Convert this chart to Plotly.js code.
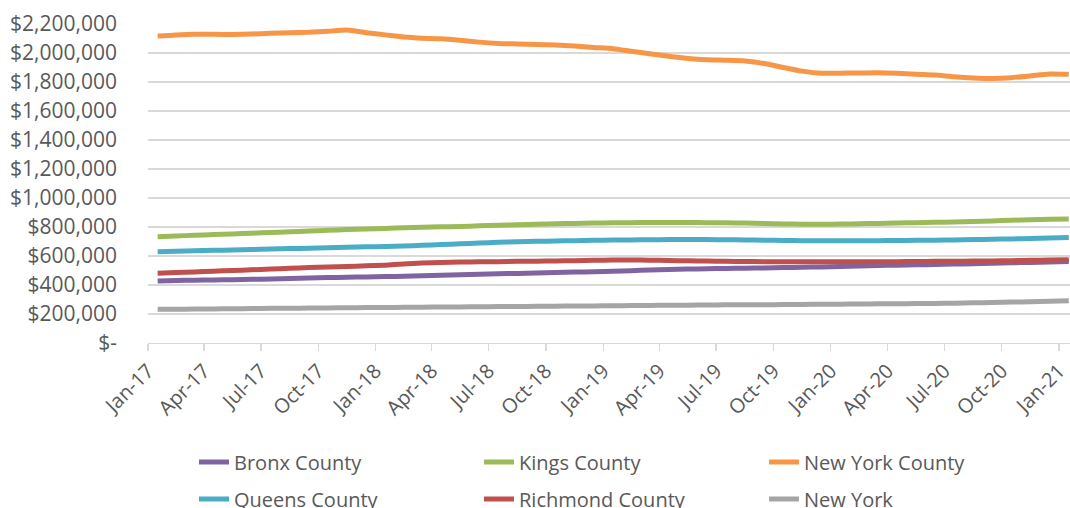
<!DOCTYPE html>
<html>
<head>
<meta charset="utf-8">
<script src="https://cdn.plot.ly/plotly-3.0.1.min.js"></script>
<style>
html,body{margin:0;padding:0;background:#fff;overflow:hidden;}
#chart{width:1070px;height:508px;}
</style>
</head>
<body>
<div id="chart"></div>
<script>
// Months Jan-17 .. Jan-21
const months = [
  "2017-01","2017-02","2017-03","2017-04","2017-05","2017-06","2017-07","2017-08","2017-09","2017-10","2017-11","2017-12",
  "2018-01","2018-02","2018-03","2018-04","2018-05","2018-06","2018-07","2018-08","2018-09","2018-10","2018-11","2018-12",
  "2019-01","2019-02","2019-03","2019-04","2019-05","2019-06","2019-07","2019-08","2019-09","2019-10","2019-11","2019-12",
  "2020-01","2020-02","2020-03","2020-04","2020-05","2020-06","2020-07","2020-08","2020-09","2020-10","2020-11","2020-12",
  "2021-01"
];

const bronx = [
  428000,431000,433000,435000,437000,439000,442000,445000,448000,451000,454000,456000,
  458000,460000,463000,467000,471000,474000,477000,480000,483000,486000,489000,492000,
  495000,499000,503000,507000,510000,512000,514000,516000,518000,520000,522000,525000,
  528000,531000,534000,537000,539000,541000,544000,547000,550000,553000,556000,559000,
  562000
];
const kings = [
  733000,738000,743000,748000,752000,757000,762000,767000,772000,777000,782000,786000,
  790000,795000,798000,801000,804000,808000,812000,816000,819000,822000,825000,827000,
  829000,830000,831000,831000,831000,830000,829000,827000,824000,821000,819000,819000,
  820000,822000,825000,828000,830000,832000,835000,838000,842000,846000,850000,853000,
  855000
];
const newYorkCounty = [
  2117000,2125000,2130000,2129000,2128000,2131000,2136000,2140000,2143000,2150000,2158000,2140000,
  2125000,2110000,2102000,2098000,2088000,2075000,2066000,2062000,2058000,2055000,2048000,2038000,
  2030000,2012000,1995000,1977000,1962000,1953000,1950000,1945000,1928000,1900000,1875000,1860000,
  1861000,1862000,1864000,1860000,1853000,1848000,1836000,1828000,1825000,1830000,1842000,1855000,
  1853000
];
const queens = [
  630000,633000,636000,639000,642000,645000,648000,651000,654000,657000,660000,663000,
  666000,669000,674000,679000,684000,689000,694000,698000,701000,704000,706000,708000,
  710000,711000,712000,713000,713000,713000,712000,711000,709000,707000,706000,705000,
  705000,705000,706000,707000,708000,709000,711000,713000,715000,718000,721000,725000,
  728000
];
const richmond = [
  481000,486000,490000,495000,500000,505000,510000,515000,520000,524000,528000,532000,
  537000,545000,552000,556000,558000,560000,561000,563000,564000,566000,568000,570000,
  572000,572000,571000,569000,567000,565000,563000,562000,561000,560000,560000,560000,
  560000,560000,560000,561000,562000,563000,564000,565000,566000,568000,570000,572000,
  574000
];
const newYork = [
  232000,233000,234000,235000,236000,238000,239000,240000,241000,242000,243000,244000,
  245000,246000,247000,248000,249000,250000,251000,252000,253000,254000,255000,256000,
  257000,258000,259000,260000,261000,262000,263000,264000,264000,265000,266000,267000,
  268000,269000,270000,271000,272000,273000,275000,277000,279000,282000,285000,288000,
  292000
];

const seriesNames = ["Bronx County","Kings County","New York County","Queens County","Richmond County","New York"];
const seriesColors = ["#8064A2","#9BBB59","#F79646","#4BACC6","#C0504D","#A5A5A5"];
const seriesData = [bronx, kings, newYorkCounty, queens, richmond, newYork];
const legendOf = ["legend","legend","legend","legend2","legend2","legend2"];

const xTickVals = ["2017-01-01","2017-04-01","2017-07-01","2017-10-01","2018-01-01","2018-04-01","2018-07-01","2018-10-01",
  "2019-01-01","2019-04-01","2019-07-01","2019-10-01","2020-01-01","2020-04-01","2020-07-01","2020-10-01","2021-01-01"];
const xTickText = ["Jan-17","Apr-17","Jul-17","Oct-17","Jan-18","Apr-18","Jul-18","Oct-18",
  "Jan-19","Apr-19","Jul-19","Oct-19","Jan-20","Apr-20","Jul-20","Oct-20","Jan-21"];

const yTickVals = [0,200000,400000,600000,800000,1000000,1200000,1400000,1600000,1800000,2000000,2200000];
const yTickText = ["$-","$200,000","$400,000","$600,000","$800,000","$1,000,000","$1,200,000","$1,400,000","$1,600,000","$1,800,000","$2,000,000","$2,200,000"];

const traces = seriesData.map((d, i) => ({
  type: "scatter",
  mode: "lines",
  name: seriesNames[i],
  x: months,
  y: d,
  xperiod: "M1",
  xperiodalignment: "middle",
  line: {color: seriesColors[i], width: 5, shape: "spline", smoothing: 0.6},
  legend: legendOf[i],
  hoverinfo: "x+y+name"
}));

const fam = "'Open Sans', sans-serif";

const legendBase = {
  orientation: "h",
  xref: "container", yref: "container",
  x: 194/1070, xanchor: "left",
  yanchor: "middle",
  entrywidth: 240, entrywidthmode: "pixels",
  font: {family: fam, color: "#595959", size: 20},
  bgcolor: "rgba(0,0,0,0)",
  traceorder: "normal"
};

const layout = {
  width: 1070, height: 508,
  margin: {l: 148, r: 0, t: 24, b: 165},
  paper_bgcolor: "#ffffff",
  plot_bgcolor: "#ffffff",
  font: {family: fam, color: "#595959", size: 20},
  showlegend: true,
  legend: Object.assign({}, legendBase, {y: (508-462)/508}),
  legend2: Object.assign({}, legendBase, {y: (508-499)/508}),
  xaxis: {
    type: "date",
    range: ["2017-01-01", "2021-01-18 12:00"],
    tickmode: "array",
    tickvals: xTickVals,
    ticktext: xTickText,
    tickangle: -45,
    ticks: "outside",
    ticklen: 7,
    tickcolor: "#d9d9d9",
    tickwidth: 1.3,
    ticklabeloverflow: "allow",
    showgrid: false,
    showline: true,
    linecolor: "#d9d9d9",
    linewidth: 1.3,
    zeroline: false,
    tickfont: {family: fam, color: "#595959", size: 20},
    fixedrange: true
  },
  yaxis: {
    range: [0, 2200000],
    tickmode: "array",
    tickvals: yTickVals,
    ticktext: yTickText,
    showgrid: true,
    gridcolor: "#d9d9d9",
    gridwidth: 1.3,
    zeroline: false,
    showline: false,
    ticks: "",
    ticklabelstandoff: 30,
    tickfont: {family: fam, color: "#595959", size: 21},
    fixedrange: true
  }
};

Plotly.newPlot("chart", traces, layout, {displayModeBar: false, staticPlot: true});
</script>
</body>
</html>
